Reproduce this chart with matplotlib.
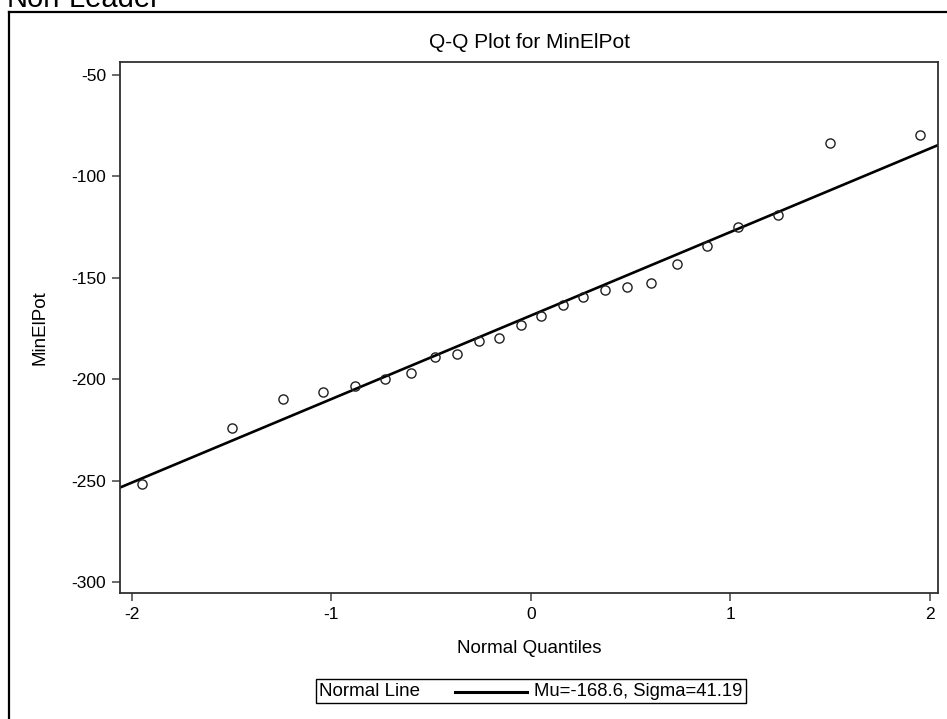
import matplotlib
matplotlib.use("Agg")
import matplotlib.pyplot as plt
from matplotlib.lines import Line2D
from matplotlib.offsetbox import AnchoredOffsetbox, HPacker, TextArea, DrawingArea

plt.rcParams['font.family'] = ['Liberation Sans', 'DejaVu Sans']

# ---- datos ----
cuantiles = [-1.95, -1.50, -1.24, -1.04, -0.88, -0.73, -0.60, -0.48,
             -0.37, -0.26, -0.16, -0.05, 0.05, 0.16, 0.26, 0.37,
             0.48, 0.60, 0.73, 0.88, 1.04, 1.24, 1.50, 1.95]
min_el_pot = [-251.5, -224.2, -209.8, -206.5, -203.2, -199.9, -196.9, -189.1,
              -187.6, -181.0, -179.5, -173.3, -169.0, -163.6, -159.6, -156.0,
              -154.4, -152.6, -143.3, -134.3, -125.0, -118.9, -83.4, -79.7]
mu = -168.6
sigma = 41.19
yticks = [-300, -250, -200, -150, -100, -50]
xticks = [-2, -1, 0, 1, 2]

fig = plt.figure(figsize=(9.47, 7.19), dpi=100)
ax = fig.add_axes([120/947, 126/719, 818/947, 531/719])

xlim = (-2.059, 2.040)
ax.set_xlim(xlim)
ax.set_ylim(-305.4, -43.6)

# linea normal
ax.plot(xlim, [mu + sigma*xlim[0], mu + sigma*xlim[1]], color='black', lw=1.9, zorder=2)
# puntos
ax.plot(cuantiles, min_el_pot, linestyle='none', marker='o', markersize=6.6,
        markerfacecolor='none', markeredgecolor='#202020', markeredgewidth=1.0, zorder=3)

ax.set_xticks(xticks)
ax.set_xticklabels([str(t) for t in xticks])
ax.set_yticks(yticks)
ax.set_yticklabels([str(t) for t in yticks])
ax.tick_params(direction='out', length=5.5, width=1.2, color='#505050',
               labelsize=12.5, pad=4.5)
for s in ax.spines.values():
    s.set_color('#303030')
    s.set_linewidth(1.3)

ax.set_title("Q-Q Plot for MinElPot", fontsize=15, pad=10)
ax.set_xlabel("Normal Quantiles", fontsize=13.5)
ax.set_ylabel("MinElPot", fontsize=13.5)
ax.xaxis.set_label_coords(0.5, -0.088)
ax.yaxis.set_label_coords(-0.088, 0.5)

# leyenda estilo SAS
da = DrawingArea(72, 10, 0, 0)
da.add_artist(Line2D([20, 72], [4, 4], color='black', lw=2.2))
caja = HPacker(children=[TextArea("Normal Line", textprops=dict(size=13.5)),
                         da,
                         TextArea("Mu=-168.6, Sigma=41.19", textprops=dict(size=13.3))],
               align='center', pad=0, sep=5)
ley = AnchoredOffsetbox(loc='center', child=caja, pad=0.25, borderpad=0,
                        frameon=True, bbox_to_anchor=(531/947, 1 - 691/719),
                        bbox_transform=fig.transFigure)
ley.patch.set_boxstyle("square", pad=0)
ley.patch.set_edgecolor('black')
ley.patch.set_linewidth(1.0)
fig.add_artist(ley)

# marco exterior y texto cortado (como en la imagen original)
fig.add_artist(Line2D([9/947, 9/947], [-0.05, 1 - 12/719], color='black', lw=1.6))
fig.add_artist(Line2D([9/947, 1.05], [1 - 12/719, 1 - 12/719], color='black', lw=1.6))
fig.text(7/947, 1 - 7/719, "Non-Leader", fontsize=21, va='baseline', ha='left')

fig.savefig("out.png", dpi=100)
